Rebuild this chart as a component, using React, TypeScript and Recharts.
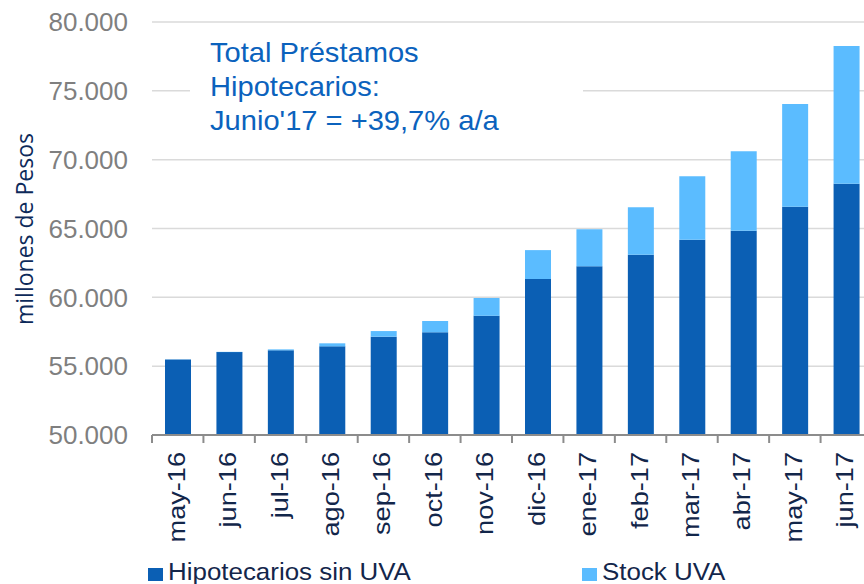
import { BarChart, Bar, XAxis, YAxis, CartesianGrid } from "recharts";

const months = [
  "may-16", "jun-16", "jul-16", "ago-16", "sep-16", "oct-16", "nov-16",
  "dic-16", "ene-17", "feb-17", "mar-17", "abr-17", "may-17", "jun-17",
];
// millones de pesos
const sinUva = [
  55490, 56020, 56150, 56440, 57140, 57460, 58660,
  61330, 62250, 63100, 64180, 64840, 66580, 68250,
];
const stockUva = [
  10, 20, 70, 220, 410, 820, 1290,
  2100, 2690, 3440, 4610, 5780, 7460, 10000,
];
const yTicks = [50000, 55000, 60000, 65000, 70000, 75000, 80000];
const seriesNames = ["Hipotecarios sin UVA", "Stock UVA"];
const seriesColors = ["#0b5fb4", "#5bbcff"];
const noteLines = ["Total Préstamos", "Hipotecarios:", "Junio'17 = +39,7% a/a"];

const data = months.map((m, i) => ({ month: m, sinUva: sinUva[i], stock: stockUva[i] }));

const CHART_W = 872;
const CHART_H = 584;
const AXIS_W = 152;
const STEP = (CHART_W - AXIS_W) / months.length;
const FONT = "'Liberation Sans', Arial, sans-serif";

const fmt = (v: number) => {
  const s = String(v);
  return s.slice(0, -3) + "." + s.slice(-3);
};

function MonthTick(props: any) {
  const { x, y, payload, index } = props;
  const half = STEP / 2;
  const tx = x + 7;
  const ty = y + 17;
  return (
    <g>
      <line x1={x - half} y1={y} x2={x - half} y2={y + 8} stroke="#8c8c8c" strokeWidth={2} />
      {index === months.length - 1 && (
        <line x1={x + half} y1={y} x2={x + half} y2={y + 8} stroke="#8c8c8c" strokeWidth={2} />
      )}
      <text
        x={0}
        y={0}
        transform={`translate(${tx}, ${ty}) rotate(-90) scale(1.18, 1)`}
        textAnchor="end"
        fill="#12264a"
        fontSize={23}
        fontFamily={FONT}
      >
        {payload.value}
      </text>
    </g>
  );
}

export default function App() {
  return (
    <div
      style={{
        position: "fixed",
        left: 0,
        top: 0,
        width: 864,
        height: 584,
        overflow: "hidden",
        background: "#fff",
      }}
    >
      <BarChart
        width={CHART_W}
        height={CHART_H}
        data={data}
        margin={{ top: 22, right: 0, bottom: 0, left: 0 }}
      >
        <CartesianGrid vertical={false} stroke="#dadada" strokeWidth={1.5} />
        <XAxis
          dataKey="month"
          height={149}
          interval={0}
          tickLine={false}
          tickSize={0}
          tickMargin={0}
          axisLine={{ stroke: "#8c8c8c", strokeWidth: 2 }}
          tick={<MonthTick />}
        />
        <YAxis
          width={AXIS_W}
          domain={[50000, 80000]}
          ticks={yTicks}
          allowDataOverflow
          axisLine={false}
          tickLine={false}
          tickSize={0}
          tickMargin={24}
          tickFormatter={fmt}
          tick={{ fill: "#7f7f7f", fontSize: 26, fontFamily: FONT }}
        />
        <Bar dataKey="sinUva" stackId="a" fill={seriesColors[0]} barSize={26} isAnimationActive={false} />
        <Bar dataKey="stock" stackId="a" fill={seriesColors[1]} barSize={26} isAnimationActive={false} />
      </BarChart>

      <svg
        width={864}
        height={584}
        style={{ position: "absolute", left: 0, top: 0, pointerEvents: "none" }}
      >
        <text
          x={33}
          y={229}
          transform="rotate(-90, 33, 229)"
          textAnchor="middle"
          fill="#0d2a5a"
          fontSize={23}
          fontFamily="'Open Sans', sans-serif"
        >
          millones de Pesos
        </text>

        <rect x={190} y={30} width={393} height={120} fill="#fff" />
        {noteLines.map((line, i) => (
          <text
            key={line}
            x={0}
            y={0}
            transform={`translate(210, ${62 + i * 34}) scale(1.04, 1)`}
            fill="#0b62bd"
            fontSize={28}
            fontFamily={FONT}
          >
            {line}
          </text>
        ))}

        {seriesNames.map((name, i) => {
          const lx = i === 0 ? 148 : 582;
          return (
            <g key={name}>
              <rect x={lx} y={568} width={15} height={13} fill={seriesColors[i]} />
              <text
                x={0}
                y={0}
                transform={`translate(${lx + 20}, 580) scale(1.08, 1)`}
                fill="#13264b"
                fontSize={24}
                fontFamily={FONT}
              >
                {name}
              </text>
            </g>
          );
        })}
      </svg>
    </div>
  );
}
